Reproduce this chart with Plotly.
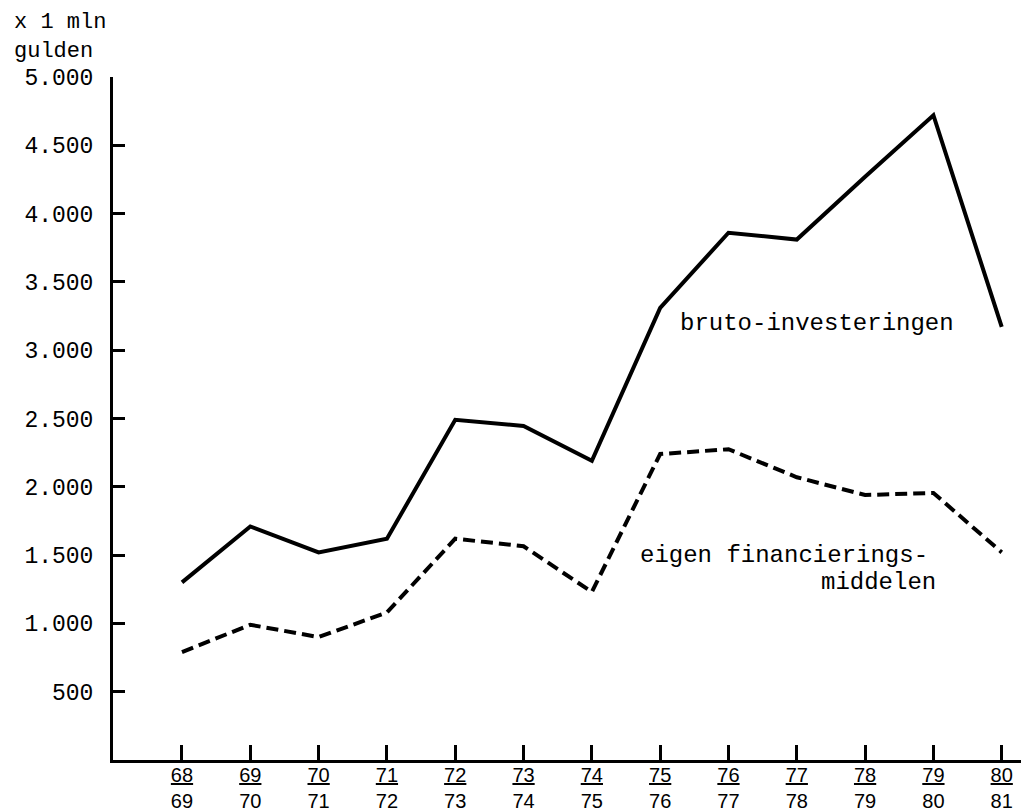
import plotly.graph_objects as go

periods = ["68/69", "69/70", "70/71", "71/72", "72/73", "73/74", "74/75",
           "75/76", "76/77", "77/78", "78/79", "79/80", "80/81"]
bruto_investeringen = [1300, 1710, 1520, 1620, 2490, 2445, 2190,
                       3310, 3860, 3810, 4270, 4720, 3170]
eigen_financieringsmiddelen = [790, 990, 900, 1080, 1620, 1565, 1230,
                               2240, 2275, 2070, 1940, 1955, 1520]
y_tick_values = [500, 1000, 1500, 2000, 2500, 3000, 3500, 4000, 4500, 5000]
y_tick_labels = ["500", "1.000", "1.500", "2.000", "2.500", "3.000",
                 "3.500", "4.000", "4.500", "5.000"]

x_idx = list(range(len(periods)))
x_labels = ["<u>" + p.split("/")[0] + "</u><br>" + p.split("/")[1] for p in periods]

MONO = "Liberation Mono, Courier New, monospace"

fig = go.Figure()
fig.add_trace(go.Scatter(x=x_idx, y=bruto_investeringen, mode="lines",
                         line=dict(color="black", width=4),
                         name="bruto-investeringen", showlegend=False))
fig.add_trace(go.Scatter(x=x_idx, y=eigen_financieringsmiddelen, mode="lines",
                         line=dict(color="black", width=4, dash="12px,6px"),
                         name="eigen financieringsmiddelen", showlegend=False))

# page body has an 8px default margin: figure is sized/offset to compensate
fig.update_layout(
    width=1021, height=804,
    margin=dict(l=105, r=2, t=69, b=52),
    paper_bgcolor="white", plot_bgcolor="white",
    font=dict(family=MONO, color="black"),
    xaxis=dict(range=[-1.01, 12.37], showgrid=False, zeroline=False, automargin=False,
               showline=True, linecolor="black", linewidth=3,
               ticks="inside", ticklen=15, tickwidth=3, tickcolor="black",
               tickvals=x_idx, ticktext=x_labels,
               ticklabelstandoff=-5,
               tickfont=dict(family="Liberation Sans, Arial, sans-serif", size=20, color="black")),
    yaxis=dict(range=[0, 5000], showgrid=False, zeroline=False, automargin=False,
               showline=True, linecolor="black", linewidth=3,
               ticks="inside", ticklen=12, tickwidth=3, tickcolor="black",
               tickvals=y_tick_values, ticktext=y_tick_labels,
               ticklabelstandoff=12,
               tickfont=dict(family=MONO, size=23, color="black")),
    annotations=[
        dict(xref="paper", yref="paper", x=-0.1105, y=1.0586, xanchor="left", yanchor="middle",
             text="x 1 mln<br>gulden", showarrow=False, align="left",
             font=dict(family=MONO, size=22, color="black")),
        dict(xref="x", yref="y", x=7.26, y=3199, xanchor="left", yanchor="middle",
             text="bruto-investeringen", showarrow=False,
             font=dict(family=MONO, size=24, color="black")),
        dict(xref="x", yref="y", x=6.67, y=1500, xanchor="left", yanchor="middle",
             text="eigen financierings-", showarrow=False,
             font=dict(family=MONO, size=24, color="black")),
        dict(xref="x", yref="y", x=11.06, y=1296, xanchor="right", yanchor="middle",
             text="middelen", showarrow=False,
             font=dict(family=MONO, size=24, color="black")),
    ],
)

fig.write_html("out.html")
